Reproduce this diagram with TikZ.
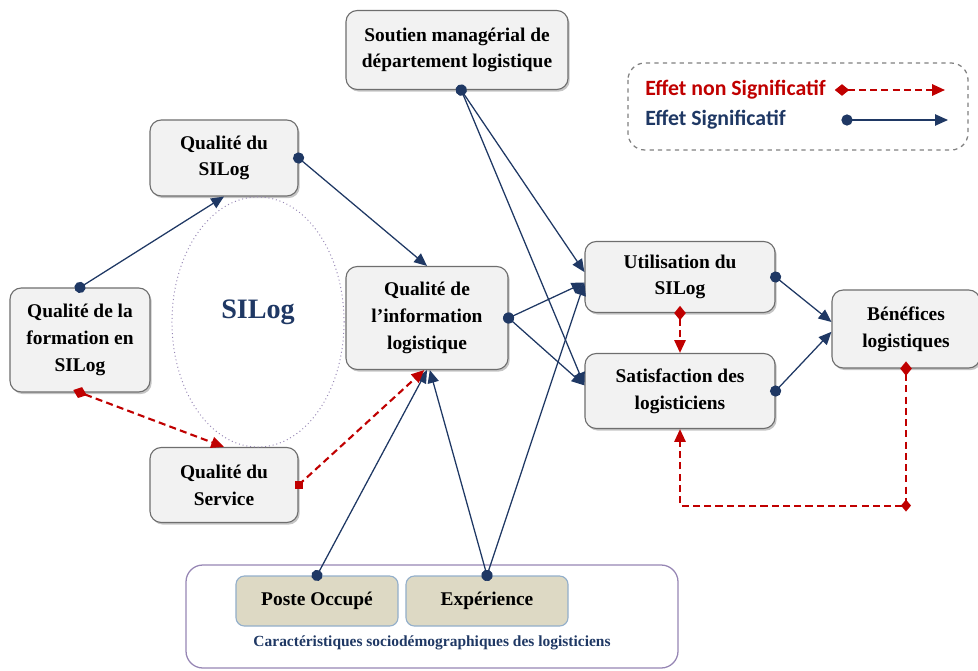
\documentclass[tikz,border=0pt]{standalone}
\usepackage{fontspec}
\setmainfont{Liberation Serif}
\newfontfamily\legfont{Carlito}
\usepackage{tikz}
\usetikzlibrary{arrows.meta,shadows}
\definecolor{navyx}{HTML}{1F3864}
\definecolor{redx}{HTML}{C00000}
\definecolor{boxbg}{HTML}{F2F2F2}
\definecolor{boxline}{HTML}{6E6E6E}
\definecolor{tanx}{HTML}{DDD9C4}
\definecolor{tanline}{HTML}{93AFCB}
\definecolor{lilac}{HTML}{9686B4}
\tikzset{
  box/.style={draw=boxline,line width=0.8pt,rounded corners=8pt,fill=boxbg,align=center,inner sep=3pt,
    font=\fontsize{13.8}{19}\selectfont\bfseries,drop shadow={shadow xshift=1.2pt,shadow yshift=-1.5pt,fill=black!45}},
  tanbox/.style={draw=tanline,line width=0.8pt,rounded corners=6pt,fill=tanx,minimum width=4.05cm,minimum height=1.25cm,
    font=\fontsize{13.8}{18}\selectfont\bfseries},
  sig/.style={navyx,line width=0.9pt,{Circle[length=2.8mm]}-{Triangle[length=3.2mm,width=2.8mm]},shorten <=-1.4mm},
  nsig/.style={redx,line width=1.5pt,dash pattern=on 5pt off 3pt,{Diamond[length=3.6mm,width=2.9mm]}-{Triangle[length=3.2mm,width=2.8mm]},shorten <=-1.8mm}
}
\begin{document}
\begin{tikzpicture}[x=0.025cm,y=-0.025cm]
\useasboundingbox (0,0) rectangle (978,670);
\node[box,minimum width=5.55cm,minimum height=1.975cm] (soutien) at (457,50) {Soutien managérial de\\département logistique};
\node[box,minimum width=3.7cm,minimum height=1.9cm] (sil) at (224,158) {Qualité du\\SILog};
\node[box,minimum width=3.5cm,minimum height=2.6cm] (form) at (80,340) {Qualité de la\\formation en\\SILog};
\node[box,minimum width=4.05cm,minimum height=2.575cm] (info) at (427,318) {Qualité de\\l’information\\logistique};
\node[box,minimum width=3.7cm,minimum height=1.875cm] (serv) at (224,485) {Qualité du\\Service};
\node[box,minimum width=4.75cm,minimum height=1.775cm] (util) at (680,277) {Utilisation du\\SILog};
\node[box,minimum width=4.75cm,minimum height=1.875cm] (sat) at (680,391) {Satisfaction des\\logisticiens};
\node[box,minimum width=3.7cm,minimum height=1.95cm] (ben) at (906,329) {Bénéfices\\logistiques};

\draw[lilac,dotted,line width=0.7pt] (258,322) ellipse [x radius=2.15cm,y radius=3.125cm];
\node[navyx,font=\fontsize{20}{24}\selectfont\bfseries] (silog) at (258,312) {SILog};

\draw[lilac,line width=0.9pt,rounded corners=12pt] (186,565) rectangle (678,668);
\node[tanbox] (poste) at (317,601) {Poste Occupé};
\node[tanbox] (exp) at (487,601) {Expérience};
\node[navyx,font=\fontsize{11}{13}\selectfont\bfseries] (socio) at (432,643) {Caractéristiques sociodémographiques des logisticiens};

\draw[sig] (form.north) -- (sil.south);
\draw[sig] (sil.east) -- (info.north);
\draw[sig] ([xshift=3pt]soutien.south) -- ([yshift=3.5pt]util.west);
\draw[sig] ([xshift=3pt]soutien.south) -- ([yshift=4pt]sat.west);
\draw[sig] (info.east) -- ([yshift=-4pt]util.west);
\draw[sig] (info.east) -- ([yshift=4pt]sat.west);
\draw[sig] (poste.north) -- (info.south);
\draw[sig] (exp.north) -- ([xshift=2pt]info.south);
\draw[sig] (exp.north) -- ([yshift=-4pt]util.west);
\draw[sig] (util.east) -- ([yshift=5pt]ben.west);
\draw[sig] (sat.east) -- ([yshift=-2pt]ben.west);

\draw[nsig] (form.south) -- (serv.north);
\draw[nsig,-{Triangle[length=3.2mm,width=2.8mm]},shorten <=0pt] (serv.east) -- ([xshift=-2pt]info.south);
\fill[redx] (serv.east) +(-4,-4) rectangle +(4,4);
\draw[nsig] (util.south) -- (sat.north);
\path (ben.south) ++(0,137) coordinate (bend);
\draw[nsig] (ben.south) -- (bend) -| (sat.south);
\fill[redx] (bend) +(-5,0) -- +(0,-6) -- +(5,0) -- +(0,6) -- cycle;

\draw[gray,dashed,line width=0.9pt,rounded corners=12pt] (628,63) rectangle (968,150);
\node[redx,anchor=west,font=\legfont\fontsize{15.5}{18}\selectfont\bfseries,inner sep=0pt] (leg1) at (645,90) {Effet non Significatif};
\node[navyx,anchor=west,font=\legfont\fontsize{15.5}{18}\selectfont\bfseries,inner sep=0pt] (leg2) at (645,120) {Effet Significatif};
\coordinate (l1a) at (842,90);
\coordinate (l1b) at (945,90);
\coordinate (l2a) at (847,120);
\coordinate (l2b) at (948,120);
\draw[nsig] (l1a) -- (l1b);
\draw[sig] (l2a) -- (l2b);
\end{tikzpicture}
\end{document}
